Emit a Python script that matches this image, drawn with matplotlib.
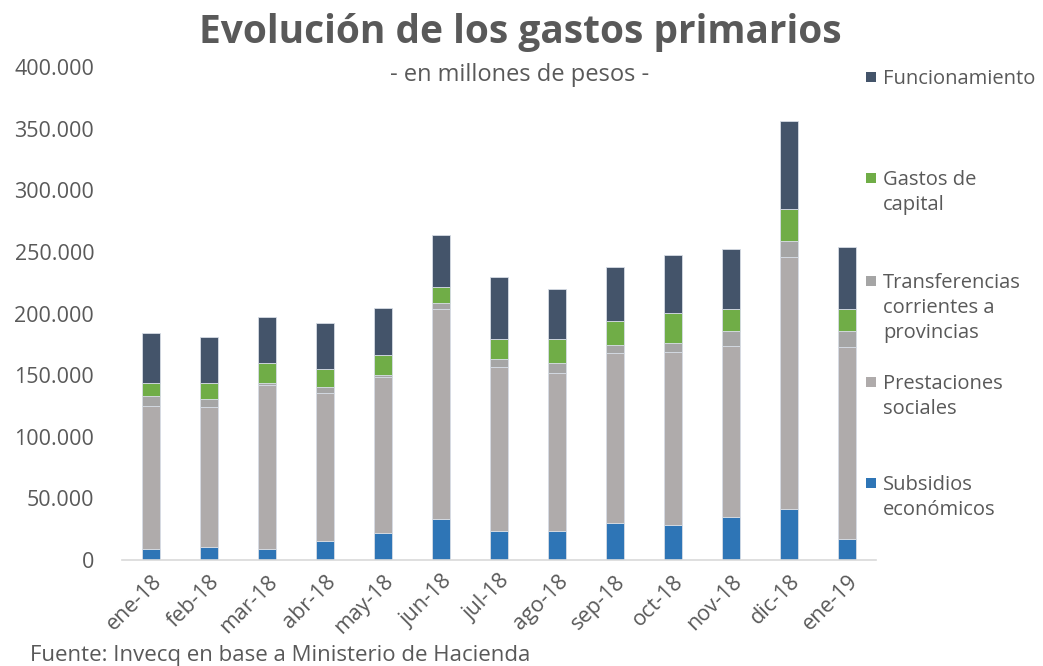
import matplotlib
matplotlib.use("Agg")
import matplotlib.pyplot as plt
from matplotlib.patches import Rectangle
from matplotlib.ticker import FuncFormatter
import numpy as np

plt.rcParams['font.family'] = ['Open Sans', 'DejaVu Sans']

months = ["ene-18", "feb-18", "mar-18", "abr-18", "may-18", "jun-18", "jul-18",
          "ago-18", "sep-18", "oct-18", "nov-18", "dic-18", "ene-19"]
subsidios = [8700, 10300, 8700, 15200, 21600, 33000, 23300, 23300, 29800, 28100, 34600, 41100, 16800]
prestaciones = [116400, 113500, 133200, 120000, 127000, 170300, 133000, 128100, 137800, 140800, 139200, 204400, 155700]
transferencias = [8200, 6500, 1400, 4900, 1200, 4900, 6500, 8100, 6500, 6900, 11700, 13000, 13000]
capital = [10000, 13000, 16200, 14600, 16500, 13000, 16200, 19500, 19500, 24300, 17800, 25900, 17800]
funcionamiento = [40600, 37300, 37300, 37300, 38400, 42400, 50300, 40600, 43800, 47300, 48700, 71600, 50300]

series = [
    ("Subsidios\neconómicos", subsidios, "#2E75B6"),
    ("Prestaciones\nsociales", prestaciones, "#AFABAB"),
    ("Transferencias\ncorrientes a\nprovincias", transferencias, "#A5A5A5"),
    ("Gastos de\ncapital", capital, "#70AD47"),
    ("Funcionamiento", funcionamiento, "#44546A"),
]

text_color = "#595959"

fig = plt.figure(figsize=(10.43, 6.66), dpi=100)
ax = fig.add_axes([122 / 1043, 1 - 560 / 666, (876 - 122) / 1043, (560 - 67) / 666])

x = np.arange(len(months))
bottom = np.zeros(len(months))
for label, vals, color in series:
    vals = np.array(vals, dtype=float)
    ax.bar(x, vals, bottom=bottom, width=0.31, color=color, edgecolor="#D6DCE5",
           linewidth=0.6, label=label)
    bottom += vals

ax.set_xlim(-0.5, len(months) - 0.5)
ax.set_ylim(0, 400000)
ax.set_yticks(np.arange(0, 400001, 50000))
ax.yaxis.set_major_formatter(FuncFormatter(lambda v, p: f"{int(v):,}".replace(",", ".")))
ax.set_xticks(x)
ax.set_xticklabels(months, rotation=45, ha="right", rotation_mode="anchor")
ax.tick_params(axis="both", length=0, labelsize=15.5, labelcolor=text_color)
ax.tick_params(axis="y", pad=20)
ax.tick_params(axis="x", pad=8)
for s in ["top", "right", "left"]:
    ax.spines[s].set_visible(False)
ax.spines["bottom"].set_color("#D9D9D9")
ax.spines["bottom"].set_linewidth(1.2)

fig.text(520 / 1043, 1 - 33 / 666, "Evolución de los gastos primarios", ha="center", va="center",
         fontsize=28, fontweight="bold", color=text_color)
fig.text(520 / 1043, 1 - 75 / 666, "- en millones de pesos -", ha="center", va="center",
         fontsize=17, color=text_color)
fig.text(30 / 1043, 1 - 655 / 666, "Fuente: Invecq en base a Ministerio de Hacienda", ha="left",
         va="center", fontsize=16, color=text_color)

# legend (manually positioned like the original)
legend_pos = {"Funcionamiento": 77, "Gastos de\ncapital": 178, "Transferencias\ncorrientes a\nprovincias": 281,
              "Prestaciones\nsociales": 382, "Subsidios\neconómicos": 483}
for label, vals, color in series:
    yy = legend_pos[label]
    fig.patches.append(Rectangle((866 / 1043, 1 - (yy + 5) / 666), 10 / 1043, 10 / 666,
                                 transform=fig.transFigure, facecolor=color, edgecolor="none"))
    for i, line in enumerate(label.split("\n")):
        fig.text(883 / 1043, 1 - (yy + 7 + 25 * i) / 666, line, ha="left", va="baseline",
                 fontsize=14.5, color=text_color)

fig.savefig("out.png", dpi=100)
